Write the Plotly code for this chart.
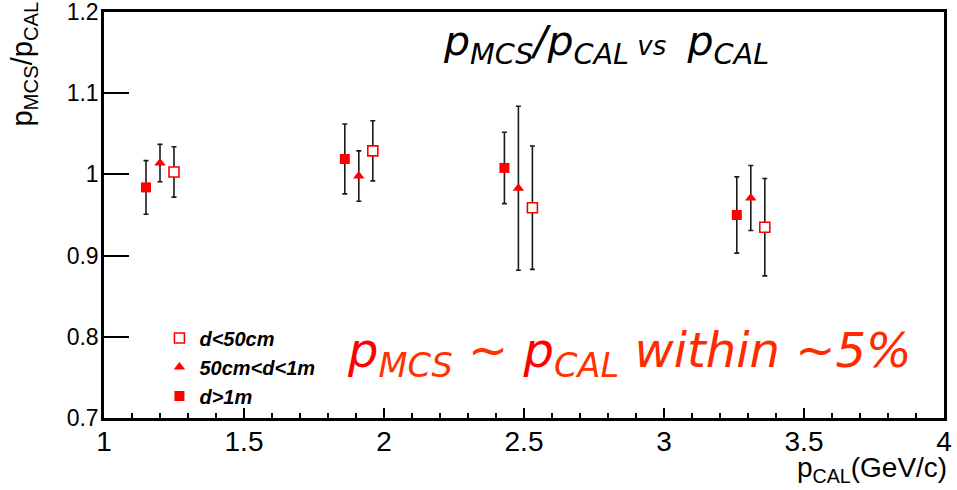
import plotly.graph_objects as go

# Momentum bins (GeV/c) per track-distance class
p_near = [1.25, 1.96, 2.53, 3.36]          # d<50cm
r_near = [1.003, 1.029, 0.959, 0.935]
e_near = [0.031, 0.037, 0.076, 0.060]

p_mid = [1.20, 1.91, 2.48, 3.31]           # 50cm<d<1m
r_mid = [1.014, 0.998, 0.983, 0.971]
e_mid = [0.023, 0.031, 0.101, 0.040]

p_far = [1.15, 1.86, 2.43, 3.26]           # d>1m
r_far = [0.984, 1.019, 1.008, 0.950]
e_far = [0.033, 0.043, 0.044, 0.047]

names = ["d<50cm", "50cm<d<1m", "d>1m"]

RED = "#ff0000"
BAR = dict(type="data", visible=True, color="#1a1a1a", thickness=1.6, width=2.5)

fig = go.Figure()

series = [
    (p_near, r_near, e_near, names[0],
     dict(symbol="square", size=10, color="white", line=dict(width=1.6, color=RED))),
    (p_mid, r_mid, e_mid, names[1],
     dict(symbol="triangle-up", size=10, color=RED)),
    (p_far, r_far, e_far, names[2],
     dict(symbol="square", size=10, color=RED)),
]
for x, y, e, name, mk in series:
    fig.add_trace(go.Scatter(
        x=x, y=y, mode="markers", name=name,
        marker=mk, error_y=dict(array=e, **BAR),
    ))

FONT = "Liberation Sans, Arial, sans-serif"
HAND = "DejaVu Sans, sans-serif"

fig.update_layout(
    width=957, height=490,
    margin=dict(l=104, r=13, t=12, b=72, autoexpand=False),
    paper_bgcolor="white", plot_bgcolor="white",
    showlegend=True,
    legend=dict(
        x=0.066, y=0.245, xanchor="left", yanchor="top",
        bgcolor="rgba(0,0,0,0)", borderwidth=0,
        traceorder="normal",
        font=dict(family=FONT, size=20, color="black", style="italic", weight="bold"),
    ),
    xaxis=dict(
        range=[1, 4], dtick=0.5, tick0=1, automargin=False,
        showgrid=False, zeroline=False,
        showline=True, linecolor="black", linewidth=2.5, mirror=True,
        ticks="inside", ticklen=10, tickwidth=1.5, tickcolor="black",
        minor=dict(dtick=0.1, ticks="inside", ticklen=5, tickwidth=1.5, tickcolor="black"),
        tickfont=dict(family=FONT, size=28, color="black"),
        ticklabeloverflow="allow", ticklabelstandoff=-3,
    ),
    yaxis=dict(
        range=[0.7, 1.2], dtick=0.1, tick0=0.7, automargin=False,
        showgrid=False, zeroline=False,
        showline=True, linecolor="black", linewidth=2.5, mirror=True,
        ticks="inside", ticklen=25, tickwidth=1.5, tickcolor="black",
        tickfont=dict(family=FONT, size=23, color="black"),
        ticklabeloverflow="allow", ticklabelstandoff=-2,
    ),
)

# axis titles, ROOT style (at the far ends of the axes)
fig.add_annotation(
    xref="paper", yref="paper", x=-0.095, y=1.03, xanchor="center", yanchor="top",
    text="p<sub>MCS</sub>/p<sub>CAL</sub>", textangle=-90, showarrow=False,
    font=dict(family=FONT, size=29, color="black"),
)
fig.add_annotation(
    xref="paper", yref="paper", x=1.006, y=-0.176, xanchor="right", yanchor="bottom",
    text="p<sub>CAL</sub>(GeV/c)", showarrow=False,
    font=dict(family=FONT, size=28, color="black"),
)

# headline and summary notes
fig.add_annotation(
    xref="paper", yref="paper", x=0.598, y=0.922, xanchor="center", yanchor="middle",
    text="<i>p<sub>MCS</sub>/p<sub>CAL</sub><span style='font-size:26px'> vs </span> p<sub>CAL</sub></i>",
    showarrow=False, font=dict(family=HAND, size=41, color="black"),
)
fig.add_annotation(
    xref="paper", yref="paper", x=0.625, y=0.16, xanchor="center", yanchor="middle",
    text="<i>p<sub><span style='color:#ff3300'>MCS</span></sub>"
         "<span style='color:#ff3300'> ~ </span>p<sub><span style='color:#ff3300'>CAL</span></sub>"
         "<span style='color:#ff2a00'> within ~5%</span></i>",
    showarrow=False, font=dict(family=HAND, size=48, color=RED),
)

fig.write_html("out.html")
